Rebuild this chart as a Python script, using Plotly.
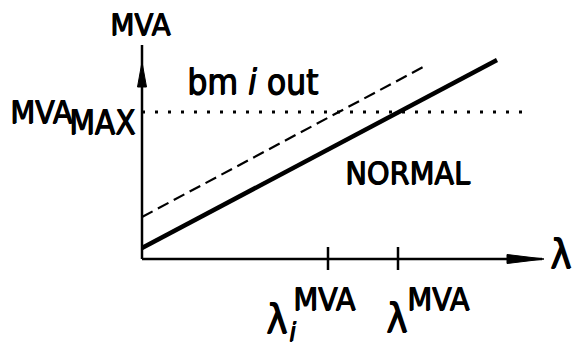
import plotly.graph_objects as go

# ---- data (abstract units: lambda on x, MVA on y) ----
tick_names = ["lambda_i_MVA", "lambda_MVA"]
tick_x = [18.6, 25.6]

normal_x = [0.0, 35.5]
normal_y = [1.1, 19.9]

outage_x = [0.0, 28.3]
outage_y = [4.2, 19.3]

mva_max = 14.7
mva_max_x = [0.0, 38.8]

x_axis_end = 40.0
y_axis_end = 21.4

FONT = "DejaVu Sans Condensed, DejaVu Sans, Liberation Sans, Arial"
BLACK = "black"
SHADOW = "1px 0px 0px black, 0px 0.5px 0px black"

fig = go.Figure()

# axes lines
fig.add_trace(go.Scatter(x=[0, x_axis_end], y=[0, 0], mode="lines",
                         line=dict(color=BLACK, width=2.5), hoverinfo="skip"))
fig.add_trace(go.Scatter(x=[0, 0], y=[0, y_axis_end], mode="lines",
                         line=dict(color=BLACK, width=2.5), hoverinfo="skip"))

# arrowheads (filled triangles)
ax_len, ax_hw = 3.7, 0.45
fig.add_trace(go.Scatter(x=[x_axis_end + 0.2, x_axis_end + 0.2 - ax_len, x_axis_end + 0.2 - ax_len, x_axis_end + 0.2],
                         y=[0, ax_hw, -ax_hw, 0], mode="lines", fill="toself",
                         fillcolor=BLACK, line=dict(color=BLACK, width=1), hoverinfo="skip"))
ay_tip, ay_len, ay_hw = 19.7, 2.5, 0.45
fig.add_trace(go.Scatter(x=[0, ay_hw, -ay_hw, 0],
                         y=[ay_tip, ay_tip - ay_len, ay_tip - ay_len, ay_tip], mode="lines", fill="toself",
                         fillcolor=BLACK, line=dict(color=BLACK, width=1), hoverinfo="skip"))

# tick marks
for tx in tick_x:
    fig.add_trace(go.Scatter(x=[tx, tx], y=[1.2, -1.1], mode="lines",
                             line=dict(color=BLACK, width=2.5), hoverinfo="skip"))

# MVA max dotted
fig.add_trace(go.Scatter(x=mva_max_x, y=[mva_max, mva_max], mode="lines",
                         line=dict(color=BLACK, width=3, dash="3px,10px"), hoverinfo="skip"))
# outage dashed line
fig.add_trace(go.Scatter(x=outage_x, y=outage_y, mode="lines",
                         line=dict(color=BLACK, width=2.2, dash="12px,6px"), hoverinfo="skip"))
# normal solid line
fig.add_trace(go.Scatter(x=normal_x, y=normal_y, mode="lines",
                         line=dict(color=BLACK, width=4.5), hoverinfo="skip"))

def label(x, y, text, size=32, italic=False):
    fig.add_annotation(x=x, y=y, text=text, showarrow=False, xanchor="center", yanchor="middle",
                       font=dict(family=FONT, size=size, color=BLACK, shadow=SHADOW,
                                 style="italic" if italic else "normal"))

label(-0.2, 23.5, "MVA", 31)
label(-10.1, 14.7, "MVA", 32)
label(-4.0, 13.7, "MAX", 33)
label(11.0, 17.75, "bm <i>i</i> out", 35)
label(26.55, 8.65, "NORMAL", 32)
label(41.8, 0.5, "λ", 40)

t1, t2 = tick_x
label(t1 - 5.2, -6.0, "λ", 40)
label(t1 - 3.6, -7.2, "<i>i</i>", 27)
label(t1 - 0.45, -3.95, "MVA", 32)
label(t2 - 0.15, -5.9, "λ", 40)
label(t2 + 4.0, -3.95, "MVA", 32)

fig.update_layout(
    width=574, height=349, margin=dict(l=0, r=0, t=0, b=0),
    paper_bgcolor="white", plot_bgcolor="white", showlegend=False,
    xaxis=dict(range=[-14.2, 43.2], visible=False, fixedrange=True),
    yaxis=dict(range=[-9.0, 25.9], visible=False, fixedrange=True),
)

fig.write_html("out.html", config={"displayModeBar": False},
               post_script="document.body.style.margin='0';document.body.style.overflow='hidden';")
